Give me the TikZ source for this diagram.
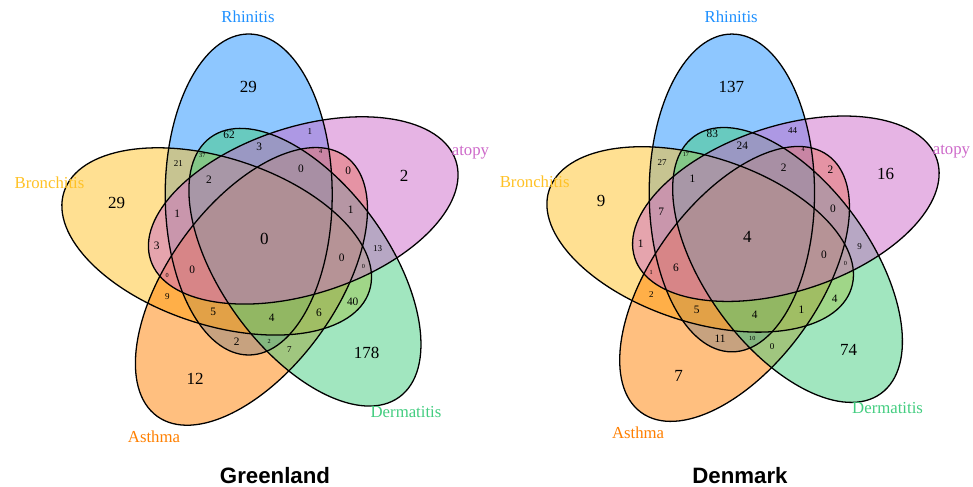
\documentclass[tikz,border=0pt]{standalone}
\usepackage{fontspec}
\setmainfont{Liberation Serif}
\newfontfamily\titlefont{Liberation Sans}
\definecolor{dodgerblue}{RGB}{30,144,255}
\definecolor{goldenrod1}{RGB}{255,193,37}
\definecolor{darkorange1}{RGB}{255,127,0}
\definecolor{seagreen3}{RGB}{67,205,128}
\definecolor{orchid3}{RGB}{205,105,201}
\begin{document}
\begin{tikzpicture}[x=.3mm,y=.3mm,
  bignum/.style={font=\fontsize{14.5}{16}\selectfont},
  midnum/.style={font=\fontsize{9.7}{11}\selectfont},
  smlnum/.style={font=\fontsize{7.7}{9}\selectfont},
  tinynum/.style={font=\fontsize{5.3}{6}\selectfont},
  catlbl/.style={font=\fontsize{14.3}{16}\selectfont},
  titlelbl/.style={font=\titlefont\bfseries\fontsize{19}{22}\selectfont,anchor=base,inner sep=.5pt},
  vfill/.style={fill opacity=.5},
  vline/.style={line width=1.1pt}]
\useasboundingbox (0,0) rectangle (973,487);

% Greenland
\begin{scope}[shift={(265,247)}]
   \fill[dodgerblue,vfill]           (-16.3,45.5) ellipse [x radius=83.5,y radius=160.5];
   \fill[goldenrod1,vfill,rotate=72]  (-16.3,45.5) ellipse [x radius=83.5,y radius=160.5];
   \fill[darkorange1,vfill,rotate=144] (-16.3,45.5) ellipse [x radius=83.5,y radius=160.5];
   \fill[seagreen3,vfill,rotate=216]  (-16.3,45.5) ellipse [x radius=83.5,y radius=160.5];
   \fill[orchid3,vfill,rotate=288]    (-16.3,45.5) ellipse [x radius=83.5,y radius=160.5];
   \draw[vline]            (-16.3,45.5) ellipse [x radius=83.5,y radius=160.5];
   \draw[vline,rotate=72]  (-16.3,45.5) ellipse [x radius=83.5,y radius=160.5];
   \draw[vline,rotate=144] (-16.3,45.5) ellipse [x radius=83.5,y radius=160.5];
   \draw[vline,rotate=216] (-16.3,45.5) ellipse [x radius=83.5,y radius=160.5];
   \draw[vline,rotate=288] (-16.3,45.5) ellipse [x radius=83.5,y radius=160.5];
   \node[bignum]  (g1)  at (-16.7,152.7) {29};
   \node[midnum]  (g2)  at (-36,105)     {62};
   \node[smlnum]  (g3)  at (45,108.3)    {1};
   \node[smlnum]  (g4)  at (-86.7,76.7)  {21};
   \node[tinynum] (g5)  at (-62.7,84.3)  {37};
   \node[midnum]  (g6)  at (-5.7,93.3)   {3};
   \node[tinynum] (g7)  at (55.7,89)     {4};
   \node[midnum]  (g8)  at (36,71)       {0};
   \node[midnum]  (g9)  at (83.3,69.3)   {0};
   \node[bignum]  (g10) at (139,64.3)    {2};
   \node[bignum]  (g11) at (-148.3,37.3) {29};
   \node[midnum]  (g12) at (-56,60)      {2};
   \node[midnum]  (g13) at (-87.7,26.7)  {1};
   \node[midnum]  (g14) at (85.7,30)     {1};
   \node[bignum]  (g15) at (-0.7,1)      {0};
   \node[midnum]  (g16) at (-108.3,-6)   {3};
   \node[smlnum]  (g17) at (112.7,-8.3)  {13};
   \node[midnum]  (g18) at (76.7,-17.3)  {0};
   \node[tinynum] (g19) at (-97.7,-35)   {0};
   \node[midnum]  (g20) at (-72.7,-30)   {0};
   \node[tinynum] (g21) at (98.3,-26)    {0};
   \node[smlnum]  (g22) at (-97.7,-56.7) {9};
   \node[midnum]  (g23) at (87.7,-61.7)  {40};
   \node[midnum]  (g24) at (-51.7,-72.3) {5};
   \node[midnum]  (g25) at (6.7,-77.7)   {4};
   \node[midnum]  (g26) at (54,-72.3)    {6};
   \node[midnum]  (g27) at (-28.3,-101.7) {2};
   \node[tinynum] (g28) at (4.3,-101.7)  {2};
   \node[smlnum]  (g29) at (24.3,-110)   {7};
   \node[bignum]  (g30) at (101.7,-113.3) {178};
   \node[bignum]  (g31) at (-70,-139)    {12};
   \node[catlbl,text=dodgerblue]  (gRh) at (-17,223)    {Rhinitis};
   \node[catlbl,text=orchid3]     (gAt) at (205.5,87)   {atopy};
   \node[catlbl,text=goldenrod1]  (gBr) at (-215.5,57)  {Bronchitis};
   \node[catlbl,text=seagreen3]   (gDe) at (141,-172)   {Dermatitis};
   \node[catlbl,text=darkorange1] (gAs) at (-111,-197)  {Asthma};
\end{scope}

% Denmark
\begin{scope}[shift={(748,249)},scale=.99]
   \fill[dodgerblue,vfill]           (-16.3,45.5) ellipse [x radius=83.5,y radius=160.5];
   \fill[goldenrod1,vfill,rotate=72]  (-16.3,45.5) ellipse [x radius=83.5,y radius=160.5];
   \fill[darkorange1,vfill,rotate=144] (-16.3,45.5) ellipse [x radius=83.5,y radius=160.5];
   \fill[seagreen3,vfill,rotate=216]  (-16.3,45.5) ellipse [x radius=83.5,y radius=160.5];
   \fill[orchid3,vfill,rotate=288]    (-16.3,45.5) ellipse [x radius=83.5,y radius=160.5];
   \draw[vline]            (-16.3,45.5) ellipse [x radius=83.5,y radius=160.5];
   \draw[vline,rotate=72]  (-16.3,45.5) ellipse [x radius=83.5,y radius=160.5];
   \draw[vline,rotate=144] (-16.3,45.5) ellipse [x radius=83.5,y radius=160.5];
   \draw[vline,rotate=216] (-16.3,45.5) ellipse [x radius=83.5,y radius=160.5];
   \draw[vline,rotate=288] (-16.3,45.5) ellipse [x radius=83.5,y radius=160.5];
   \node[bignum]  (d1)  at (-16.7,152.7) {137};
   \node[midnum]  (d2)  at (-36,105)     {83};
   \node[smlnum]  (d3)  at (45,108.3)    {44};
   \node[smlnum]  (d4)  at (-86.7,76.7)  {27};
   \node[tinynum] (d5)  at (-62.7,84.3)  {17};
   \node[midnum]  (d6)  at (-5.7,93.3)   {24};
   \node[tinynum] (d7)  at (55.7,89)     {4};
   \node[midnum]  (d8)  at (36,71)       {2};
   \node[midnum]  (d9)  at (83.3,69.3)   {2};
   \node[bignum]  (d10) at (139,64.3)    {16};
   \node[bignum]  (d11) at (-148.3,37.3) {9};
   \node[midnum]  (d12) at (-56,60)      {1};
   \node[midnum]  (d13) at (-87.7,26.7)  {7};
   \node[midnum]  (d14) at (85.7,30)     {0};
   \node[bignum]  (d15) at (-0.7,1)      {4};
   \node[midnum]  (d16) at (-108.3,-6)   {1};
   \node[smlnum]  (d17) at (112.7,-8.3)  {9};
   \node[midnum]  (d18) at (76.7,-17.3)  {0};
   \node[tinynum] (d19) at (-97.7,-35)   {1};
   \node[midnum]  (d20) at (-72.7,-30)   {6};
   \node[tinynum] (d21) at (98.3,-26)    {0};
   \node[smlnum]  (d22) at (-97.7,-56.7) {2};
   \node[midnum]  (d23) at (87.7,-61.7)  {4};
   \node[midnum]  (d24) at (-51.7,-72.3) {5};
   \node[midnum]  (d25) at (6.7,-77.7)   {4};
   \node[midnum]  (d26) at (54,-72.3)    {1};
   \node[midnum]  (d27) at (-28.3,-101.7) {11};
   \node[tinynum] (d28) at (4.3,-101.7)  {10};
   \node[smlnum]  (d29) at (24.3,-110)   {0};
   \node[bignum]  (d30) at (101.7,-113.3) {74};
   \node[bignum]  (d31) at (-70,-139)    {7};
   \node[catlbl,text=dodgerblue]  (dRh) at (-17,223)    {Rhinitis};
   \node[catlbl,text=orchid3]     (dAt) at (205.5,87)   {atopy};
   \node[catlbl,text=goldenrod1]  (dBr) at (-215.5,57)  {Bronchitis};
   \node[catlbl,text=seagreen3]   (dDe) at (141,-172)   {Dermatitis};
   \node[catlbl,text=darkorange1] (dAs) at (-111,-197)  {Asthma};
\end{scope}

\node[titlelbl] (gTitle) at (275,3) {Greenland};
\node[titlelbl] (dTitle) at (740,3) {Denmark};
\end{tikzpicture}
\end{document}
